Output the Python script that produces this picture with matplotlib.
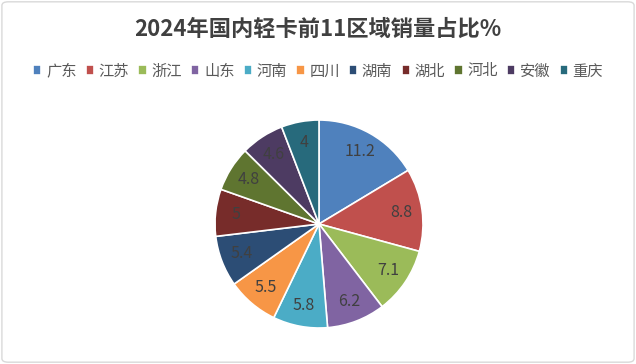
import matplotlib
matplotlib.use('Agg')
import matplotlib.pyplot as plt
from matplotlib.patches import FancyBboxPatch

plt.rcParams['font.family'] = ['Noto Sans CJK SC', 'DejaVu Sans']

regions = ['广东', '江苏', '浙江', '山东', '河南', '四川', '湖南', '湖北', '河北', '安徽', '重庆']
shares = [11.2, 8.8, 7.1, 6.2, 5.8, 5.5, 5.4, 5, 4.8, 4.6, 4]
colors = ['#4F81BD', '#C0504D', '#9BBB59', '#8064A2', '#4BACC6', '#F79646',
          '#2C4D75', '#772C2A', '#5F7530', '#4D3B62', '#276A7C']

fig = plt.figure(figsize=(6.36, 3.64), dpi=100)
border = FancyBboxPatch((0.003, 0.005), 0.994, 0.99, boxstyle='round,pad=0,rounding_size=0.01',
                        transform=fig.transFigure, fc='white', ec='#D9D9D9', lw=1, zorder=-5)
fig.patches.append(border)

# pie: centre ~ (319, 224) px, radius ~104 px
r_px = 104
cx, cy = 319, 224
ax = fig.add_axes([(cx - r_px) / 636, 1 - (cy + r_px) / 364, 2 * r_px / 636, 2 * r_px / 364])
wedges, texts = ax.pie(shares, colors=colors, startangle=90, counterclock=False,
                       labels=[str(v) for v in shares], labeldistance=0.8,
                       wedgeprops=dict(edgecolor='white', linewidth=1.2),
                       textprops=dict(color='#404040', fontsize=11.5))
for t in texts:
    t.set_horizontalalignment('center')
    t.set_verticalalignment('center')
ax.set_xlim(-1, 1)
ax.set_ylim(-1, 1)
ax.set_aspect('equal')

fig.text(0.5, 1 - 29 / 364, '2024年国内轻卡前11区域销量占比%', ha='center', va='center',
         fontsize=16, fontweight='bold', color='#404040')

leg = fig.legend(wedges, regions, loc='center', bbox_to_anchor=(0.5, 1 - 71 / 364), ncol=11,
                 frameon=False, fontsize=11, handlelength=0.55, handleheight=0.55,
                 handletextpad=0.3, columnspacing=0.6, labelcolor='#595959')

fig.savefig('out.png', dpi=100)
